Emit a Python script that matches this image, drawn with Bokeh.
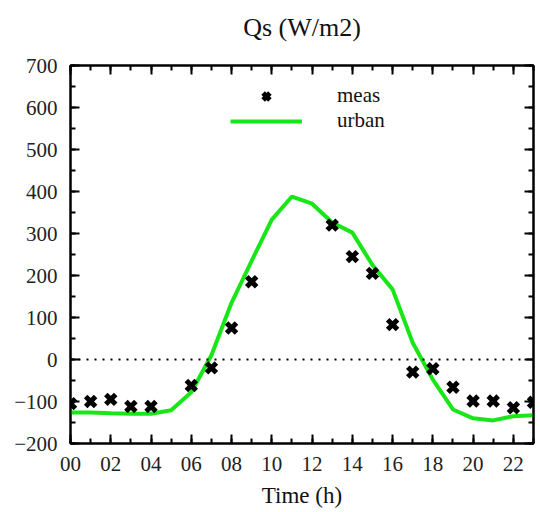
import numpy as np
from bokeh.plotting import figure
from bokeh.models import (FixedTicker, LinearAxis, Span, Legend, LegendItem,
                          Range1d, CustomJSTickFormatter)
from bokeh.embed import file_html
from bokeh.resources import INLINE

# ---- data ----
meas_hours = [0, 1, 2, 3, 4, 6, 7, 8, 9, 13, 14, 15, 16, 17, 18, 19, 20, 21, 22, 23]
meas_qs = [-105, -100, -95, -112, -112, -62, -20, 75, 185, 320, 245, 205, 83,
           -30, -22, -66, -99, -99, -115, -102]
urban_hours = list(range(24))
urban_qs = [-126, -126, -128, -129, -129, -121, -78, 10, 135, 235, 333, 388,
            371, 326, 302, 225, 167, 40, -48, -119, -140, -145, -135, -133]

x_ticks = [0, 2, 4, 6, 8, 10, 12, 14, 16, 18, 20, 22]
x_tick_labels = ["00", "02", "04", "06", "08", "10", "12", "14", "16", "18", "20", "22"]
y_ticks = [-200, -100, 0, 100, 200, 300, 400, 500, 600, 700]
title_text = "Qs (W/m2)"

FONT = "Liberation Serif"

p = figure(width=540, height=512, output_backend="svg", toolbar_location=None,
           x_range=Range1d(0, 23), y_range=Range1d(-200, 700),
           min_border_left=70, min_border_right=7, min_border_top=65,
           min_border_bottom=69)
p.grid.visible = False
p.outline_line_color = "black"
p.outline_line_width = 2
p.background_fill_color = "white"
p.border_fill_color = "white"

xt = FixedTicker(ticks=x_ticks, minor_ticks=list(range(0, 24)))
yt = FixedTicker(ticks=y_ticks, minor_ticks=list(range(-200, 701, 50)))

def style(ax, labels=True):
    ax.axis_line_color = "black"
    ax.axis_line_width = 2
    ax.major_tick_in = 9
    ax.major_tick_out = 0
    ax.minor_tick_in = 5
    ax.minor_tick_out = 0
    ax.major_tick_line_width = 2
    ax.minor_tick_line_width = 2
    ax.major_tick_line_color = "black"
    ax.minor_tick_line_color = "black"
    if labels:
        ax.major_label_text_font = FONT
        ax.major_label_text_font_size = "21px"
        ax.major_label_text_color = "#222222"
        ax.major_label_standoff = 13
    else:
        ax.formatter = CustomJSTickFormatter(code="return ''")
        ax.major_label_standoff = 0

xa = p.xaxis[0]
xa.ticker = xt
xa.major_label_overrides = dict(zip(x_ticks, x_tick_labels))
style(xa)
xa.axis_label = "Time (h)"
xa.axis_label_text_font = FONT
xa.axis_label_text_font_size = "23px"
xa.axis_label_text_font_style = "normal"
xa.axis_label_text_color = "#111111"
xa.axis_label_standoff = 9

ya = p.yaxis[0]
ya.ticker = yt
style(ya)

# top axis: carries the chart title as its axis label
top = LinearAxis(ticker=xt)
style(top, labels=False)
top.axis_label = title_text
top.axis_label_text_font = FONT
top.axis_label_text_font_size = "26px"
top.axis_label_text_font_style = "normal"
top.axis_label_text_color = "#111111"
top.axis_label_standoff = 24
p.add_layout(top, "above")

right = LinearAxis(ticker=yt)
style(right, labels=False)
p.add_layout(right, "right")

p.add_layout(Span(location=0, dimension="width", line_color="black",
                  line_width=2, line_dash="2 6"))

ln = p.line(urban_hours, urban_qs, line_color="#19e619", line_width=4)
mk = p.scatter(meas_hours, meas_qs, marker="x", size=14, line_width=5,
               line_color="black")

legend = Legend(items=[LegendItem(label="meas", renderers=[mk]),
                       LegendItem(label="urban", renderers=[ln])],
                location=(160, 310), glyph_width=72, glyph_height=24,
                spacing=0, padding=0, margin=0, label_standoff=35,
                label_text_font=FONT, label_text_font_size="21px",
                label_text_color="#111111",
                border_line_color=None, background_fill_alpha=0)
p.add_layout(legend, "center")

open("out.html", "w").write(file_html(p, INLINE))
